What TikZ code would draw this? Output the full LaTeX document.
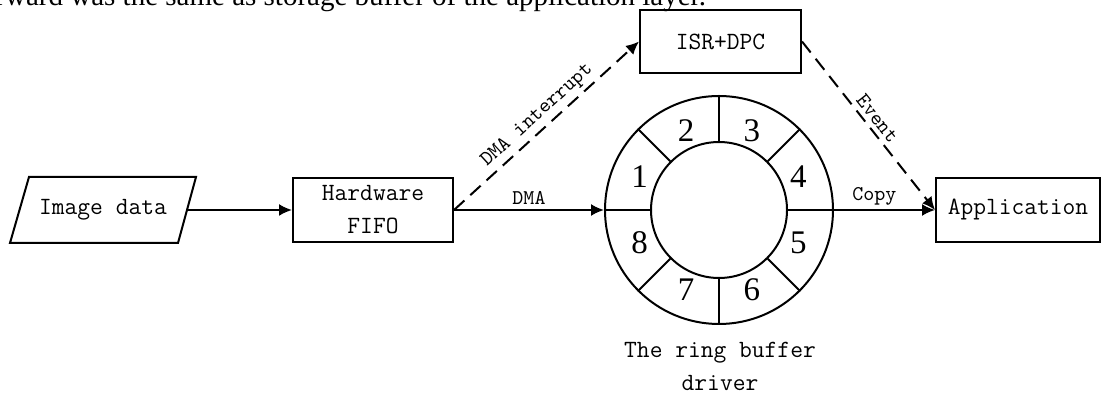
\documentclass[tikz,border=0pt]{standalone}
\usepackage{fontspec}
\newfontfamily\timesfont{Liberation Serif}
\usetikzlibrary{arrows,arrows.meta}

\begin{document}
\begin{tikzpicture}[>={Latex[length=6.5pt,width=6pt]},x=0.5pt,y=-0.5pt,line width=1pt,font=\fontsize{12.4}{16.5}\selectfont\ttfamily]
    \tikzstyle{bx}=[draw,rectangle,minimum height=32pt,inner sep=0pt]
    \tikzstyle{lbl}=[font=\fontsize{10.5}{12}\selectfont\ttfamily,inner sep=2pt]
    \tikzstyle{dsh}=[dash pattern=on 7pt off 4pt]
    \tikzstyle{num}=[font=\fontsize{16.5}{18}\selectfont\timesfont,inner sep=0pt]

    \useasboundingbox (0,0) rectangle (1102,394);
    \node[anchor=base east,inner sep=0pt,font=\fontsize{14.5}{16}\selectfont\timesfont] (txt) at (707,6) {forward was the same as storage buffer of the application layer.};

    \node[bx,draw=none,minimum width=83pt] (img)  at (103,210)    {Image data};
    \draw ([xshift=-4.5pt]img.south west) -- ([xshift=5pt]img.north west) -- ([xshift=4.5pt]img.north east) -- ([xshift=-4.5pt]img.south east) -- cycle;
    \node[bx,minimum width=80pt,align=center]    (fifo) at (373,210)    {Hardware\\FIFO};
    \node[bx,minimum width=80.5pt,minimum height=31.5pt] (isr) at (720.5,41.5) {ISR+DPC};
    \node[bx,minimum width=82pt]                 (app)  at (1018,210)   {Application};

    % ring buffer
    \node[circle,draw,minimum size=114pt,inner sep=0pt] (ring) at (719,210) {};
    \node[circle,draw,minimum size=68pt,inner sep=0pt]  (hub)  at (719,210) {};
    \foreach \a in {0,45,...,315}
        \draw (hub.\a) -- (ring.\a);
    \foreach \n/\a in {1/157.5,2/112.5,3/67.5,4/22.5,5/-22.5,6/-67.5,7/-112.5,8/-157.5}
        \node[num] (n\n) at ([shift={(\a:43pt)}]ring.center) {\n};
    \node[align=center] (cap) at (720,366) {The ring buffer\\driver};

    \draw[->]     (img.east)  -- (fifo.west);
    \draw[->]     (fifo.east) -- node[lbl,above] {DMA} (ring.west);
    \draw[->,dsh] (fifo.east) -- node[lbl,above,sloped] {DMA interrupt} (isr.west);
    \draw[->]     (ring.east) -- node[lbl,above,pos=0.4] {Copy} (app.west);
    \draw[->,dsh] (isr.east)  -- node[lbl,above,sloped] {Event} (app.west);
\end{tikzpicture}
\end{document}
